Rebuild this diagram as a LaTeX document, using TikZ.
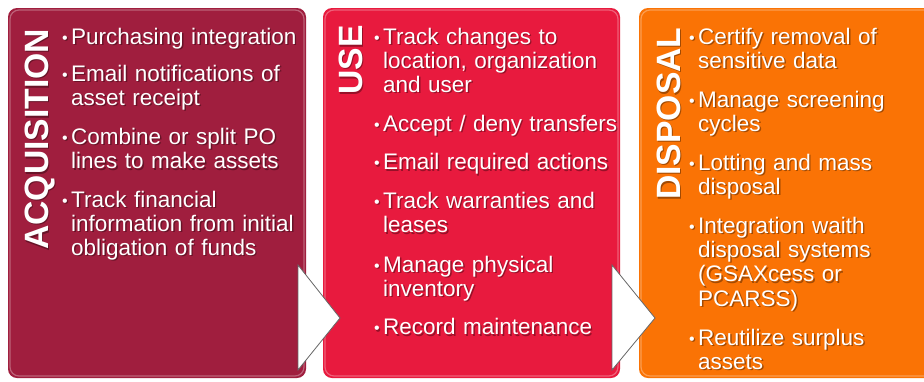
\documentclass[tikz,border=0pt]{standalone}
\usepackage{fontspec}
\setmainfont{Liberation Sans}
\usepackage{tikz}

\definecolor{acqred}{RGB}{160,30,62}
\definecolor{usered}{RGB}{232,26,62}
\definecolor{disorange}{RGB}{250,115,5}

\newcommand{\itm}{\leavevmode\llap{\fontsize{16}{16}\selectfont\raisebox{1pt}{\textbullet}\hspace{3.5pt}}}

\tikzset{
  panel/.style={rounded corners=9pt},
  title/.style={rotate=90,anchor=base west,inner sep=0pt,font=\fontsize{33.7}{34}\selectfont\bfseries},
  items/.style={anchor=base west,inner sep=0pt,text width=250pt,align=left,font=\fontsize{22.5}{24.3}\selectfont},
  chevron/.style={fill=white,draw=black!60,line width=0.8pt}
}

\begin{document}
\begin{tikzpicture}[x=1pt,y=-1pt]
\useasboundingbox (0,0) rectangle (924,381);
\clip (0,0) rectangle (924,381);
\fill[white] (0,0) rectangle (924,381);
% the three stages
\fill[panel,acqred] (8,8) rectangle (306,378);
\fill[panel,usered] (323,8) rectangle (620,378);
\fill[panel,disorange] (639,8) rectangle (950,378);
\foreach \x/\w in {8/298,323/297,639/311}
  \draw[panel,white,opacity=0.3,line width=1.2pt] (\x+2,10) rectangle (\x+\w-2,376);
\draw[chevron] (298,265) -- (340,318) -- (298,370) -- cycle;
\draw[chevron] (612,265) -- (655,318) -- (612,370) -- cycle;
% text, shadow first
\foreach \d/\col/\op in {1.3/black/0.35,0/white/1} {
\begin{scope}[shift={(\d,\d)},text=\col,text opacity=\op]
\node[title] (acqtitle) at (48,250) {ACQUISITION};
\node[title] (usetitle) at (362,95) {USE};
\node[title] (distitle) at (680,200) {DISPOSAL};
% bullet lists
\node[items] (acqlist) at (71,44) {\itm Purchasing integration\\[13pt]
  \itm Email notifications of\\asset receipt\\[14.5pt]
  \itm Combine or split PO\\lines to make assets\\[14pt]
  \itm Track financial\\information from initial\\obligation of funds};
\node[items] (uselist) at (383,44) {\itm Track changes to\\location, organization\\and user\\[14.5pt]
  \itm Accept / deny transfers\\[14pt]
  \itm Email required actions\\[14.5pt]
  \itm Track warranties and\\leases\\[15pt]
  \itm Manage physical\\inventory\\[14pt]
  \itm Record maintenance};
\node[items] (displist) at (698,44) {\itm Certify removal of\\sensitive data\\[14.5pt]
  \itm Manage screening\\cycles\\[14.5pt]
  \itm Lotting and mass\\disposal\\[14.5pt]
  \itm Integration waith\\disposal systems\\(GSAXcess or\\PCARSS)\\[14.5pt]
  \itm Reutilize surplus\\assets};
\end{scope}
}
\end{tikzpicture}
\end{document}
